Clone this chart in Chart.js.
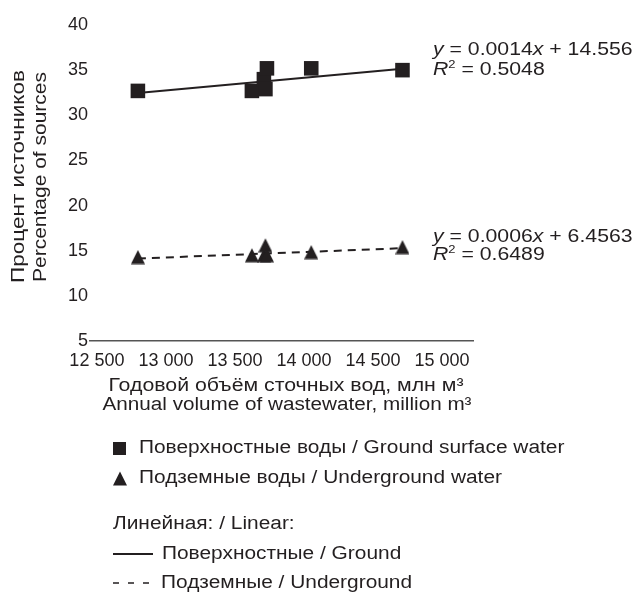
<!DOCTYPE html>
<html>
<head>
<meta charset="utf-8">
<script src="https://cdn.jsdelivr.net/npm/chart.js@4.4.0/dist/chart.umd.min.js"></script>
<style>
html, body { margin: 0; padding: 0; background: #fff; }
</style>
</head>
<body>
<canvas id="grafico" width="636" height="594"></canvas>
<script>
// valores
const volumes = [12797, 13623, 13710, 13721, 13732, 14053, 14714];
const surfaceShare = [32.7, 32.7, 34.0, 32.9, 35.2, 35.2, 35.0];
const undergroundShare = [14.3, 14.5, 14.5, 15.6, 14.5, 14.85, 15.4];
// extremos das linhas de tendência
const trendX = [12797, 14714];
const surfaceTrend = [32.47, 35.16];
const undergroundTrend = [14.13, 15.28];
const xTicks = [12500, 13000, 13500, 14000, 14500, 15000];

const ink = '#231f20';
const fam = "'Liberation Sans', Arial, sans-serif";

function pts(xs, ys) { return xs.map((x, i) => ({ x: x, y: ys[i] })); }

// triângulo um pouco mais alto que o padrão do Chart.js
const tri = document.createElement('canvas');
tri.width = 14; tri.height = 15;
(function () {
    const c = tri.getContext('2d');
    c.fillStyle = ink;
    c.beginPath();
    c.moveTo(7, 0.5);
    c.lineTo(14, 14.5);
    c.lineTo(0, 14.5);
    c.closePath();
    c.fill();
})();

// texto esticado na horizontal (a fonte do original é mais larga)
function stretched(ctx, text, x, y, size, sx, opts) {
    opts = opts || {};
    ctx.save();
    ctx.font = size + 'px ' + fam;
    if (opts.width) sx = opts.width / ctx.measureText(text).width;
    ctx.translate(x, y);
    if (opts.rotate) ctx.rotate(-Math.PI / 2);
    ctx.scale(sx, 1);
    ctx.textAlign = opts.align || 'left';
    ctx.textBaseline = 'middle';
    ctx.fillText(text, 0, 0);
    ctx.restore();
}

function drawRuns(ctx, x, y, runs, size, sx) {
    ctx.save();
    ctx.translate(x, y);
    ctx.scale(sx, 1);
    ctx.textBaseline = 'middle';
    ctx.textAlign = 'left';
    let cx = 0;
    runs.forEach(r => {
        const s = r.sup ? Math.round(size * 0.6) : size;
        ctx.font = (r.i ? 'italic ' : '') + s + 'px ' + fam;
        ctx.fillText(r.t, cx, r.sup ? -size * 0.3 : 0);
        cx += ctx.measureText(r.t).width;
    });
    ctx.restore();
}

const textos = {
    id: 'textos',
    afterDraw(chart) {
        const ctx = chart.ctx;
        ctx.save();
        ctx.fillStyle = ink;

        // títulos dos eixos
        stretched(ctx, 'Процент источников', 19, 176.5, 19, 1, { rotate: true, align: 'center', width: 213 });
        stretched(ctx, 'Percentage of sources', 41, 177, 19, 1, { rotate: true, align: 'center', width: 210 });
        stretched(ctx, 'Годовой объём сточных вод, млн м³', 286, 386, 18, 1, { align: 'center', width: 355 });
        stretched(ctx, 'Annual volume of wastewater, million m³', 287, 405, 18, 1, { align: 'center', width: 369 });

        // equações
        const eq = 1.18;
        drawRuns(ctx, 433, 50, [{ t: 'y', i: true }, { t: ' = 0.0014' }, { t: 'x', i: true }, { t: ' + 14.556' }], 18, eq);
        drawRuns(ctx, 433, 70, [{ t: 'R', i: true }, { t: '2', sup: true }, { t: ' = 0.5048' }], 18, eq);
        drawRuns(ctx, 433, 237, [{ t: 'y', i: true }, { t: ' = 0.0006' }, { t: 'x', i: true }, { t: ' + 6.4563' }], 18, eq);
        drawRuns(ctx, 433, 255, [{ t: 'R', i: true }, { t: '2', sup: true }, { t: ' = 0.6489' }], 18, eq);

        // legenda
        const lg = 1.16;
        ctx.fillRect(113, 442, 13, 13);
        stretched(ctx, 'Поверхностные воды / Ground surface water', 139, 448, 18, lg);
        ctx.drawImage(tri, 113, 471);
        stretched(ctx, 'Подземные воды / Underground water', 139, 478, 18, lg);
        stretched(ctx, 'Линейная: / Linear:', 113, 524, 18, lg);
        ctx.strokeStyle = ink;
        ctx.lineWidth = 2;
        ctx.beginPath();
        ctx.moveTo(113, 554);
        ctx.lineTo(153, 554);
        ctx.stroke();
        stretched(ctx, 'Поверхностные / Ground', 162, 554, 18, lg);
        ctx.lineWidth = 1.6;
        ctx.setLineDash([6, 9]);
        ctx.beginPath();
        ctx.moveTo(113, 583);
        ctx.lineTo(150, 583);
        ctx.stroke();
        ctx.setLineDash([]);
        stretched(ctx, 'Подземные / Underground', 161, 583, 18, lg);
        ctx.restore();
    }
};

const ctxGrafico = document.getElementById('grafico').getContext('2d');
const grafico = new Chart(ctxGrafico, {
    type: 'scatter',
    data: {
        datasets: [
            {
                label: 'Поверхностные воды / Ground surface water',
                data: pts(volumes, surfaceShare),
                pointStyle: 'rect',
                pointRadius: 10.3,
                backgroundColor: ink,
                borderColor: ink,
                borderWidth: 0,
                order: 0
            },
            {
                label: 'Подземные воды / Underground water',
                data: pts(volumes, undergroundShare),
                pointStyle: tri,
                pointRadius: 8,
                backgroundColor: ink,
                borderColor: ink,
                borderWidth: 0,
                order: 0
            },
            {
                type: 'line',
                label: 'Поверхностные / Ground',
                data: pts(trendX, surfaceTrend),
                borderColor: ink,
                borderWidth: 2,
                pointRadius: 0,
                order: 1
            },
            {
                type: 'line',
                label: 'Подземные / Underground',
                data: pts(trendX, undergroundTrend),
                borderColor: ink,
                borderWidth: 2,
                borderDash: [8, 6],
                pointRadius: 0,
                order: 1
            }
        ]
    },
    options: {
        responsive: false,
        animation: false,
        devicePixelRatio: 1,
        layout: { padding: { left: 0, right: 163, top: 25, bottom: 178 } },
        plugins: { legend: { display: false }, tooltip: { enabled: false } },
        scales: {
            x: {
                type: 'linear',
                min: 12450,
                max: 15225,
                afterBuildTicks: s => { s.ticks = xTicks.map(v => ({ value: v })); },
                afterFit: s => { s.height = 75; },
                grid: { display: false, drawTicks: false },
                border: { display: true, color: '#555', width: 1.5 },
                ticks: {
                    padding: 9,
                    color: ink,
                    font: { family: fam, size: 18 },
                    maxRotation: 0,
                    callback: v => String(v).replace(/(\d{2})(\d{3})$/, '$1 $2')
                },
                title: { display: false }
            },
            y: {
                min: 5,
                max: 40,
                afterFit: s => { s.width = 90; },
                grid: { display: false, drawTicks: false },
                border: { display: false },
                ticks: {
                    stepSize: 5,
                    padding: 2,
                    color: ink,
                    font: { family: fam, size: 18 }
                },
                title: { display: false }
            }
        }
    },
    plugins: [textos]
});
</script>
</body>
</html>
